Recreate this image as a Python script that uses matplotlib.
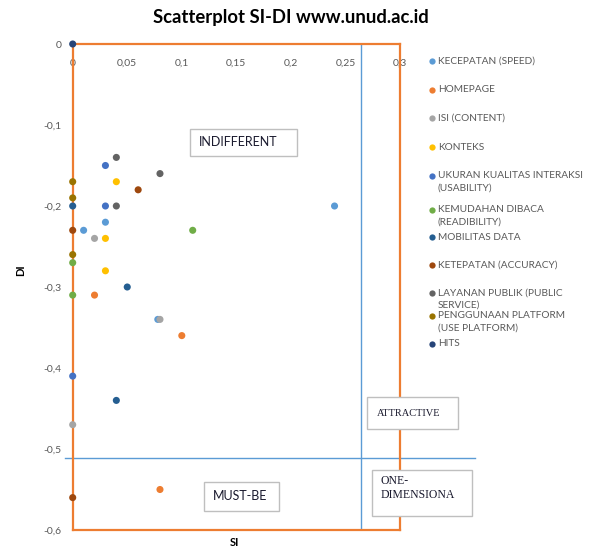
import matplotlib
matplotlib.use("Agg")
import matplotlib.pyplot as plt
from matplotlib.ticker import FuncFormatter
from matplotlib.patches import Rectangle
from matplotlib.lines import Line2D

# ---------------- data ----------------
series_names = [
    "KECEPATAN (SPEED)",
    "HOMEPAGE",
    "ISI (CONTENT)",
    "KONTEKS",
    "UKURAN KUALITAS INTERAKSI\n(USABILITY)",
    "KEMUDAHAN DIBACA\n(READIBILITY)",
    "MOBILITAS DATA",
    "KETEPATAN (ACCURACY)",
    "LAYANAN PUBLIK (PUBLIC\nSERVICE)",
    "PENGGUNAAN PLATFORM\n(USE PLATFORM)",
    "HITS",
]
kecepatan_si = [0.24, 0.03, 0.01, 0.078]
kecepatan_di = [-0.20, -0.22, -0.23, -0.34]
homepage_si = [0.02, 0.10, 0.08]
homepage_di = [-0.31, -0.36, -0.55]
isi_si = [0.02, 0.08, 0.0]
isi_di = [-0.24, -0.34, -0.47]
konteks_si = [0.04, 0.03, 0.03]
konteks_di = [-0.17, -0.24, -0.28]
ukuran_si = [0.03, 0.03, 0.0]
ukuran_di = [-0.15, -0.20, -0.41]
kemudahan_si = [0.11, 0.0, 0.0]
kemudahan_di = [-0.23, -0.27, -0.31]
mobilitas_si = [0.0, 0.05, 0.04]
mobilitas_di = [-0.20, -0.30, -0.44]
ketepatan_si = [0.06, 0.0, 0.0]
ketepatan_di = [-0.18, -0.23, -0.56]
layanan_si = [0.04, 0.08, 0.04]
layanan_di = [-0.14, -0.16, -0.20]
penggunaan_si = [0.0, 0.0, 0.0]
penggunaan_di = [-0.17, -0.19, -0.26]
hits_si = [0.0]
hits_di = [0.0]

si_values = [kecepatan_si, homepage_si, isi_si, konteks_si, ukuran_si, kemudahan_si,
             mobilitas_si, ketepatan_si, layanan_si, penggunaan_si, hits_si]
di_values = [kecepatan_di, homepage_di, isi_di, konteks_di, ukuran_di, kemudahan_di,
             mobilitas_di, ketepatan_di, layanan_di, penggunaan_di, hits_di]

si_threshold = 0.264
di_threshold = -0.511

x_ticks = [0, 0.05, 0.1, 0.15, 0.2, 0.25, 0.3]
y_ticks = [0, -0.1, -0.2, -0.3, -0.4, -0.5, -0.6]

quadrant_labels = ["INDIFFERENT", "MUST-BE", "ATTRACTIVE", "ONE-\nDIMENSIONA"]

# ---------------- style ----------------
colors = ["#5B9BD5", "#ED7D31", "#A5A5A5", "#FFC000", "#4472C4", "#70AD47",
          "#255E91", "#9E480E", "#636363", "#997300", "#264478"]
W, H = 592, 546
SANS = ["Lato", "DejaVu Sans"]
SERIF = ["Liberation Serif", "DejaVu Serif"]
TICK_COLOR = "#595959"
FRAME = "#ED7D31"
LINE_BLUE = "#5B9BD5"

fig = plt.figure(figsize=(W / 100, H / 100), dpi=100)
fig.patch.set_facecolor("white")

def fx(px):
    return px / W

def fy(py):
    return 1 - py / H

ax_l, ax_r, ax_t, ax_b = 72.7, 400.0, 44.0, 530.0
ax = fig.add_axes([fx(ax_l), fy(ax_b), (ax_r - ax_l) / W, (ax_b - ax_t) / H])
ax.set_xlim(0, 0.3)
ax.set_ylim(-0.6, 0)

for sp in ax.spines.values():
    sp.set_color(FRAME)
    sp.set_linewidth(1.6)

def comma_fmt(v, pos):
    if abs(v) < 1e-9:
        return "0"
    s = ("%.2f" % v).rstrip("0").rstrip(".")
    return s.replace(".", ",")

ax.set_xticks(x_ticks)
ax.set_yticks(y_ticks)
ax.xaxis.set_major_formatter(FuncFormatter(comma_fmt))
ax.yaxis.set_major_formatter(FuncFormatter(comma_fmt))
ax.tick_params(axis="x", which="both", length=0, bottom=False, top=False,
               labelbottom=False, labeltop=True, pad=-17, labelsize=7.5,
               labelcolor=TICK_COLOR)
ax.tick_params(axis="y", length=0, pad=8, labelsize=7.5, labelcolor=TICK_COLOR)
for t in ax.get_xticklabels() + ax.get_yticklabels():
    t.set_fontfamily(SANS)

# threshold lines (extend outside the plot like in the original)
ax.add_line(Line2D([-0.007, 0.369], [di_threshold, di_threshold], color=LINE_BLUE,
                   lw=1.0, clip_on=False, zorder=2))
ax.add_line(Line2D([si_threshold, si_threshold], [0, -0.597], color=LINE_BLUE,
                   lw=1.0, clip_on=False, zorder=2))

for name, xs, ys, c in zip(series_names, si_values, di_values, colors):
    ax.scatter(xs, ys, s=26, color=c, edgecolors="none", zorder=5, clip_on=False,
               label=name)

fig.text(fx(234), fy(542), "SI", ha="center", va="center", fontsize=8,
         fontweight="bold", family=SANS)
fig.text(fx(21), fy(270), "DI", ha="center", va="center", fontsize=8,
         fontweight="bold", rotation=90, family=SANS)

fig.text(fx(291), fy(17), "Scatterplot SI-DI www.unud.ac.id", ha="center",
         va="center", fontsize=13.3, fontweight="bold", family=SANS)

# quadrant label boxes (figure pixel coordinates)
boxes = [
    (190, 129, 297, 156, 199, SANS, 9),
    (204, 482, 279, 511, 213, SANS, 9),
    (367, 397, 458, 429, 377, SERIF, 7.5),
    (372, 470, 472, 516, 381, SERIF, 8.5),
]
for label, (x0, y0, x1, y1, tx, fam, fs) in zip(quadrant_labels, boxes):
    fig.add_artist(Rectangle((fx(x0), fy(y1)), (x1 - x0) / W, (y1 - y0) / H,
                             transform=fig.transFigure, facecolor="white",
                             edgecolor="#BFBFBF", lw=1.0, zorder=6))
    if "\n" in label:
        fig.text(fx(tx), fy(y0 + 5), label, ha="left", va="top", fontsize=fs,
                 family=fam, color="#1a1a2e", zorder=7, linespacing=1.2)
    else:
        fig.text(fx(tx), fy((y0 + y1) / 2), label, ha="left", va="center",
                 fontsize=fs, family=fam, color="#1a1a2e", zorder=7)

# legend drawn manually to reproduce Excel's spacing
legend_y = [61, 90, 118, 147, 176, 210, 237, 265, 293, 316, 344]
for name, c, ly in zip(series_names, colors, legend_y):
    fig.add_artist(Line2D([fx(432)], [fy(ly)], marker="o", markersize=4.5,
                          color=c, markeredgewidth=0, linestyle="none",
                          transform=fig.transFigure))
    fig.text(fx(438), fy(ly - 4.5), name, ha="left", va="top", fontsize=7.3,
             family=SANS, color=TICK_COLOR, linespacing=1.4)

fig.savefig("out.png", dpi=100, facecolor="white")
